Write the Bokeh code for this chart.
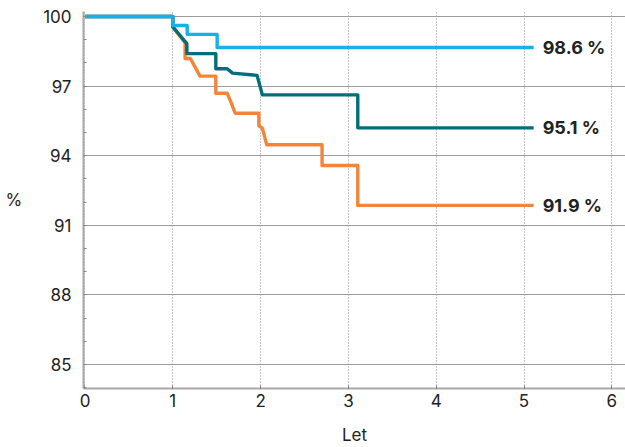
from bokeh.plotting import figure
from bokeh.models import FixedTicker, Range1d
from bokeh.embed import file_html
from bokeh.resources import INLINE
from bokeh.core.properties import value

# Data (years vs. % surviving)
blue_x = [0, 1.0, 1.0, 1.164, 1.164, 1.505, 1.505, 5.11]
blue_y = [100, 100, 99.61, 99.61, 99.23, 99.23, 98.66, 98.66]

teal_x = [0, 1.0, 1.0, 1.16, 1.16, 1.49, 1.49, 1.62, 1.68, 1.96, 2.02, 3.107, 3.107, 5.11]
teal_y = [100, 100, 99.55, 98.83, 98.40, 98.40, 97.75, 97.75, 97.56, 97.46, 96.62, 96.62, 95.20, 95.20]

orange_x = [0, 1.0, 1.0, 1.14, 1.14, 1.20, 1.31, 1.49, 1.49, 1.62, 1.66, 1.71, 1.98,
            1.98, 2.02, 2.07, 2.70, 2.70, 3.107, 3.107, 5.11]
orange_y = [100, 100, 99.55, 98.87, 98.19, 98.19, 97.43, 97.43, 96.69, 96.69, 96.33, 95.83, 95.83,
            95.29, 95.19, 94.47, 94.47, 93.58, 93.58, 91.86, 91.86]

end_labels = ["98.6 %", "95.1 %", "91.9 %"]
end_x = [5.11, 5.11, 5.11]
end_y = [98.66, 95.20, 91.86]

y_ticks = [85, 88, 91, 94, 97, 100]
x_ticks = [0, 1, 2, 3, 4, 5, 6]

colors = {"blue": "#14b1ec", "teal": "#006e7b", "orange": "#f3843a"}
FONT = "Inter"

p = figure(width=625, height=447, output_backend="svg", toolbar_location=None,
           x_range=Range1d(-0.017, 6.156), y_range=Range1d(83.971, 100.214),
           min_border_left=83, min_border_right=0, min_border_top=11, min_border_bottom=57)
p.outline_line_color = None
p.background_fill_color = "white"

# grids
p.ygrid.ticker = FixedTicker(ticks=y_ticks)
p.ygrid.grid_line_color = "#9c9c9c"
p.ygrid.grid_line_width = 1
p.xgrid.ticker = FixedTicker(ticks=x_ticks)
p.xgrid.grid_line_color = "#8c8c8c"
p.xgrid.grid_line_dash = "1 2"
p.xgrid.grid_line_width = 1

# axes
p.yaxis.ticker = FixedTicker(ticks=y_ticks, minor_ticks=list(range(84, 101)))
p.xaxis.ticker = FixedTicker(ticks=x_ticks)
for ax in (p.xaxis, p.yaxis):
    ax.axis_line_color = "#a8a8a8"
    ax.axis_line_width = 2
    ax.major_tick_out = 0
    ax.major_tick_in = 3
    ax.major_tick_line_color = "#777777"
    ax.minor_tick_out = 0
    ax.minor_tick_in = 0
    ax.major_label_text_font = FONT
    ax.major_label_text_font_size = "17px"
    ax.major_label_text_color = "#222222"
    ax.axis_label_text_font = FONT
    ax.axis_label_text_font_size = "17px"
    ax.axis_label_text_font_style = "normal"
    ax.axis_label_text_color = "#222222"

p.yaxis.minor_tick_in = 3
p.yaxis.minor_tick_line_color = "#888888"
p.yaxis.major_label_standoff = 12
p.yaxis.axis_label = "%"
p.yaxis.axis_label_orientation = "horizontal"
p.yaxis.axis_label_standoff = 18

p.xaxis.major_label_standoff = 5
p.xaxis.axis_label = "Let"
p.xaxis.axis_label_standoff = 15

# lines
p.line(orange_x, orange_y, line_color=colors["orange"], line_width=3.4, line_join="round")
p.line(teal_x, teal_y, line_color=colors["teal"], line_width=3.4, line_join="round")
p.line(blue_x, blue_y, line_color=colors["blue"], line_width=3.4, line_join="round")

p.text(x=end_x, y=end_y, text=end_labels, x_offset=9,
       text_font=value(FONT), text_font_size="18px", text_font_style="bold",
       text_color="#222222", text_baseline="middle", text_align="left")

open("out.html", "w").write(file_html(p, INLINE))
